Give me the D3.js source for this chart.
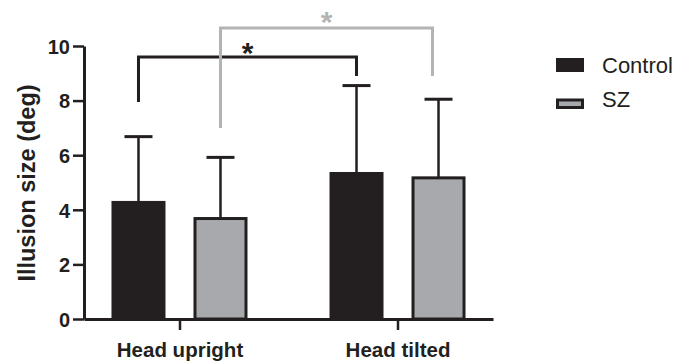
<!DOCTYPE html>
<html>
<head>
<meta charset="utf-8">
<script src="https://cdn.jsdelivr.net/npm/d3@7"></script>
<style>
  body { margin: 0; background: #fff; }
  text { font-family: "Liberation Sans", Arial, sans-serif; fill: #231f20; }
</style>
</head>
<body>
<div id="main"></div>
<script>
// data
var conditions = ['Head upright', 'Head tilted'];
var groups = ['Control', 'SZ'];
var controlMeans = [4.27, 5.33];
var controlSD = [2.41, 3.22];
var szMeans = [3.68, 5.17];
var szSD = [2.24, 2.88];
var yTicks = [0, 2, 4, 6, 8, 10];

// significance brackets: [condition, group] ends, heights in deg
var brackets = [
  { from: ['Head upright', 'Control'], to: ['Head tilted', 'Control'], y1: 7.95, top: 9.6, y2: 8.9, color: '#231f20', dx2: 0, starGap: 6 },
  { from: ['Head upright', 'SZ'], to: ['Head tilted', 'SZ'], y1: 7.0, top: 10.66, y2: 8.9, color: '#b3b3b3', dx2: -6, starGap: 4 }
];

var width = 689;
var height = 361;
var dark = '#231f20';
var grey = '#a7a9ac';

var svg = d3.select('#main')
  .append('svg')
  .attr('width', width)
  .attr('height', height);

var x0 = d3.scalePoint()
  .domain(conditions)
  .range([84, 493])
  .padding(0.438);

var x1 = d3.scaleBand()
  .domain(groups)
  .range([-68, 68])
  .paddingInner(28 / 82);

var y = d3.scaleLinear()
  .domain([0, 10])
  .range([319, 46]);

var color = d3.scaleOrdinal().domain(groups).range([dark, grey]);

var rows = [];
conditions.forEach(function(c, i) {
  rows.push({ cond: c, group: 'Control', mean: controlMeans[i], sd: controlSD[i] });
  rows.push({ cond: c, group: 'SZ', mean: szMeans[i], sd: szSD[i] });
});

function cx(cond, group) {
  return x0(cond) + x1(group) + x1.bandwidth() / 2;
}

// error bars (upper only)
var err = svg.append('g');
err.selectAll('line.stem')
  .data(rows)
  .enter().append('line')
  .attr('class', 'stem')
  .attr('x1', function(d) { return cx(d.cond, d.group); })
  .attr('x2', function(d) { return cx(d.cond, d.group); })
  .attr('y1', function(d) { return y(d.mean); })
  .attr('y2', function(d) { return y(d.mean + d.sd); })
  .attr('stroke', dark)
  .attr('stroke-width', 2.5);
err.selectAll('line.cap')
  .data(rows)
  .enter().append('line')
  .attr('class', 'cap')
  .attr('x1', function(d) { return cx(d.cond, d.group) - 14; })
  .attr('x2', function(d) { return cx(d.cond, d.group) + 14; })
  .attr('y1', function(d) { return y(d.mean + d.sd); })
  .attr('y2', function(d) { return y(d.mean + d.sd); })
  .attr('stroke', dark)
  .attr('stroke-width', 3);

// bars
svg.append('g').selectAll('rect')
  .data(rows)
  .enter().append('rect')
  .attr('x', function(d) { return x0(d.cond) + x1(d.group) + 1.5; })
  .attr('width', x1.bandwidth() - 3)
  .attr('y', function(d) { return y(d.mean); })
  .attr('height', function(d) { return y(0) - y(d.mean); })
  .attr('fill', function(d) { return color(d.group); })
  .attr('stroke', dark)
  .attr('stroke-width', 3);

// axes
var yAxis = svg.append('g')
  .attr('transform', 'translate(84,0)')
  .call(d3.axisLeft(y).tickValues(yTicks).tickSize(11).tickSizeOuter(0).tickPadding(3));

var xAxis = svg.append('g')
  .attr('transform', 'translate(0,319)')
  .call(d3.axisBottom(x0).tickSize(11).tickSizeOuter(0).tickPadding(5));

[yAxis, xAxis].forEach(function(a) {
  a.select('.domain').attr('stroke', dark).attr('stroke-width', 3);
  a.selectAll('.tick line').attr('stroke', dark).attr('stroke-width', 2.5);
  a.selectAll('.tick text')
    .attr('fill', dark)
    .style('font-family', '"Liberation Sans", Arial, sans-serif')
    .style('font-weight', 'bold')
    .style('font-size', '20px');
});
yAxis.selectAll('.tick text').attr('dy', '0.36em');
xAxis.selectAll('.tick text').attr('dy', '1.05em').style('font-size', '20.5px');

// y title
svg.append('text')
  .attr('transform', 'translate(35,183) rotate(-90)')
  .attr('text-anchor', 'middle')
  .style('font-weight', 'bold')
  .style('font-size', '23.5px')
  .text('Illusion size (deg)');

// brackets
brackets.forEach(function(b) {
  var xa = cx(b.from[0], b.from[1]);
  var xb = cx(b.to[0], b.to[1]) + b.dx2;
  svg.append('path')
    .attr('d', d3.line()([[xa, y(b.y1)], [xa, y(b.top)], [xb, y(b.top)], [xb, y(b.y2)]]))
    .attr('fill', 'none')
    .attr('stroke', b.color)
    .attr('stroke-width', 3);
  svg.append('text')
    .attr('x', (xa + xb) / 2)
    .attr('y', y(b.top) + b.starGap)
    .attr('text-anchor', 'middle')
    .style('font-size', '30px')
    .style('font-weight', 'bold')
    .style('fill', b.color)
    .text('*');
});

// legend
var legend = svg.append('g');
var legendRects = [[58, 14], [98.5, 10.5]];
groups.forEach(function(g, i) {
  legend.append('rect')
    .attr('x', 557.5)
    .attr('y', legendRects[i][0] + 1.5)
    .attr('width', 25)
    .attr('height', legendRects[i][1] - 3)
    .attr('fill', color(g))
    .attr('stroke', dark)
    .attr('stroke-width', 3);
  legend.append('text')
    .attr('x', 602)
    .attr('y', [72.7, 106.7][i])
    .style('font-size', '22px')
    .text(g);
});
</script>
</body>
</html>
